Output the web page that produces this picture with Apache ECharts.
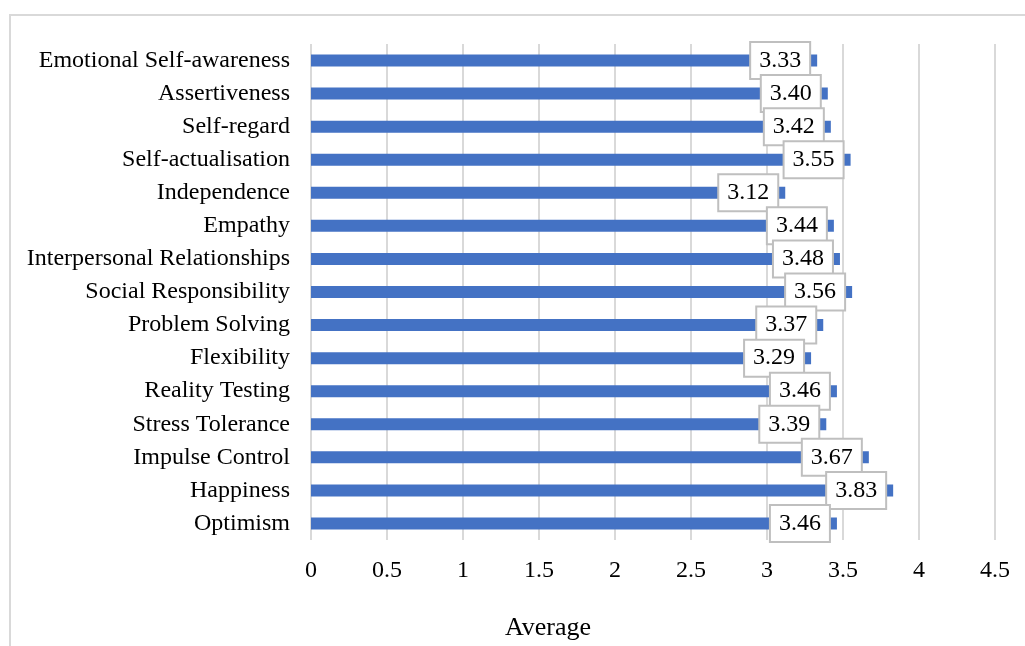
<!DOCTYPE html>
<html>
<head>
<meta charset="utf-8">
<script src="https://cdn.jsdelivr.net/npm/echarts@6/dist/echarts.min.js"></script>
<style>
  html, body { margin: 0; padding: 0; background: #fff; }
  #chart { width: 1025px; height: 646px; }
</style>
</head>
<body>
<div id="chart"></div>
<script>
// EQ subscale averages, listed top to bottom
const categories = [
  'Emotional Self-awareness', 'Assertiveness', 'Self-regard', 'Self-actualisation',
  'Independence', 'Empathy', 'Interpersonal Relationships', 'Social Responsibility',
  'Problem Solving', 'Flexibility', 'Reality Testing', 'Stress Tolerance',
  'Impulse Control', 'Happiness', 'Optimism'
];
const averages = [3.33, 3.40, 3.42, 3.55, 3.12, 3.44, 3.48, 3.56, 3.37, 3.29, 3.46, 3.39, 3.67, 3.83, 3.46];
const axisMin = 0;
const axisMax = 4.5;
const axisStep = 0.5;
const axisTitle = 'Average';

const font = '"Liberation Serif", "Times New Roman", serif';
const chart = echarts.init(document.getElementById('chart'));

chart.setOption({
  animation: false,
  backgroundColor: '#ffffff',
  textStyle: { fontFamily: font },
  grid: { left: 311, right: 30, top: 44, bottom: 106 },
  graphic: [
    {
      type: 'rect',
      shape: { x: 10, y: 15, width: 1200, height: 800 },
      style: { fill: 'none', stroke: '#d9d9d9', lineWidth: 2 },
      silent: true
    },
    {
      type: 'text',
      x: 548, y: 628,
      style: {
        text: axisTitle, fontFamily: font, fontSize: 26, fill: '#000',
        align: 'center', verticalAlign: 'middle'
      }
    }
  ],
  xAxis: {
    type: 'value',
    min: axisMin, max: axisMax, interval: axisStep,
    axisLine: { show: false },
    axisTick: { show: false },
    splitLine: { show: true, lineStyle: { color: '#d9d9d9', width: 2 } },
    axisLabel: { color: '#000', fontSize: 24, fontFamily: font, margin: 19 }
  },
  yAxis: {
    type: 'category',
    data: categories,
    inverse: true,
    axisLine: { show: false },
    axisTick: { show: false },
    axisLabel: { color: '#000', fontSize: 24, fontFamily: font, margin: 21 }
  },
  series: [{
    type: 'bar',
    data: averages,
    barWidth: 12,
    itemStyle: { color: '#4472C4' },
    label: {
      show: true,
      position: 'insideRight',
      distance: 8,
      formatter: p => p.value.toFixed(2),
      color: '#000',
      fontSize: 24,
      fontFamily: font,
      backgroundColor: '#fff',
      borderColor: '#bfbfbf',
      borderWidth: 2,
      padding: [6, 8, 5, 8],
      lineHeight: 24
    }
  }]
});
</script>
</body>
</html>
